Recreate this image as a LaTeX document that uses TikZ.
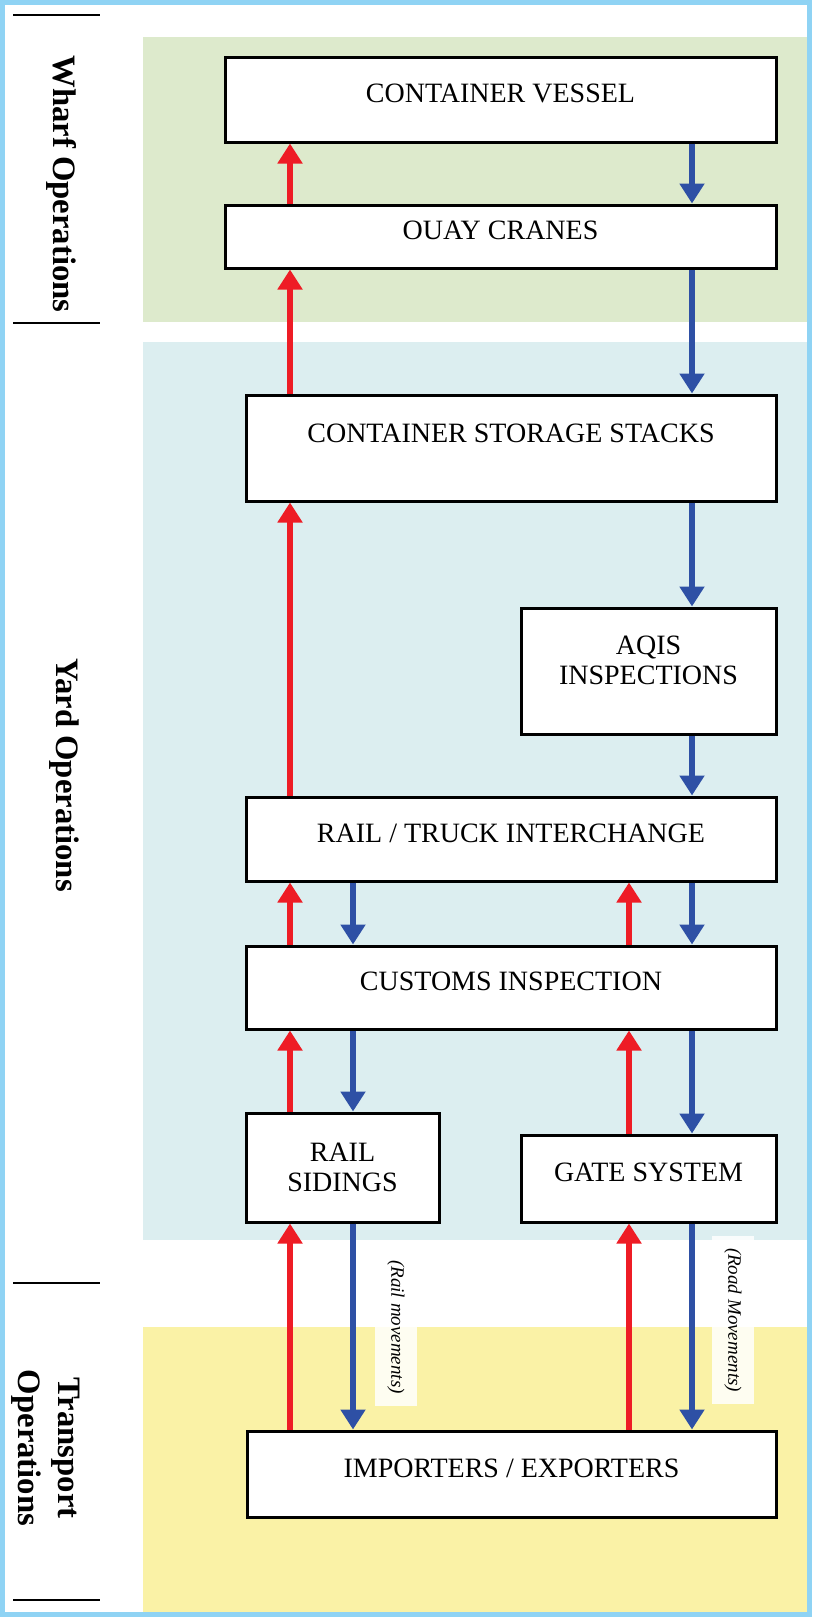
\documentclass[tikz,border=0pt]{standalone}
\usepackage{fontspec}
\setmainfont{Liberation Serif}
\definecolor{PortFrame}{HTML}{8FD3F4}
\definecolor{PortWharf}{HTML}{DDEACC}
\definecolor{PortYard}{HTML}{DCEEF0}
\definecolor{PortTransport}{HTML}{FAF2A6}
\definecolor{PortRed}{HTML}{EE1C25}
\definecolor{PortBlue}{HTML}{2E50A5}
\definecolor{PortBlack}{HTML}{000000}
\definecolor{PortWhite}{HTML}{FFFFFF}
\usepackage{tikz}
\usetikzlibrary{arrows.meta, positioning, calc}
\tikzset{
    box/.style={
        draw=PortBlack,
        line width=3pt,
        fill=PortWhite,
        minimum width=530pt,
        minimum height=84pt,
        text=PortBlack,
        font=\fontsize{28}{30}\selectfont,
        align=center,
        inner sep=4pt,
        text depth=12pt
    },
    sidelabel/.style={
        rotate=-90,
        text=PortBlack,
        font=\bfseries\fontsize{32.7}{40}\selectfont,
        align=center
    },
    movelabel/.style={
        rotate=-90,
        fill=PortWhite,
        fill opacity=0.85,
        text opacity=1,
        text=PortBlack,
        font=\itshape\fontsize{19}{22}\selectfont,
        inner xsep=12pt,
        inner ysep=12pt
    },
    divider/.style={
        draw=PortBlack,
        line width=2pt
    },
    exportarrow/.style={
        -{Triangle[width=24pt,length=20pt]},
        line width=6pt,
        PortRed
    },
    importarrow/.style={
        -{Triangle[width=24pt,length=20pt]},
        line width=6pt,
        PortBlue
    }
}

\begin{document}
\begin{tikzpicture}[x=1pt, y=-1pt]
    \useasboundingbox (0,0) rectangle (812,1617);

    % Panels and frame
    \fill[PortWharf] (143,37) rectangle (807,322);
    \fill[PortYard] (143,342) rectangle (807,1240);
    \fill[PortTransport] (143,1327) rectangle (807,1612);
    \draw[PortFrame, line width=5pt] (2.5,2.5) rectangle (809.5,1614.5);

    % Side labels
    \draw[divider] (13,15) -- (100,15);
    \draw[divider] (13,323) -- (100,323);
    \draw[divider] (13,1283) -- (100,1283);
    \draw[divider] (13,1600) -- (100,1600);
    \node[sidelabel] (wharf) at (62,184) {Wharf Operations};
    \node[sidelabel] (yard) at (64,775) {Yard Operations};
    \node[sidelabel] (transport) at (46,1448) {Transport\\Operations};

    % Arrow lanes
    \coordinate (railup) at (290,0);
    \coordinate (raildown) at (353,0);
    \coordinate (roadup) at (629,0);
    \coordinate (roaddown) at (692,0);

    % Wharf operations
    \node[box, minimum width=551pt, minimum height=85pt] (vessel) at (500.5,99.5) {CONTAINER VESSEL};
    \node[box, minimum width=551pt, minimum height=63pt] (quay) at (500.5,236.5) {OUAY CRANES};

    % Yard operations
    \node[box, minimum height=106pt, text depth=30pt] (stacks) at (511,448) {CONTAINER STORAGE STACKS};
    \node[box, minimum width=255pt, minimum height=126pt, text depth=22pt] (aqis) at (648.5,671) {AQIS\\INSPECTIONS};
    \node[box] (interchange) at (511,839) {RAIL / TRUCK INTERCHANGE};
    \node[box, minimum height=83pt] (customs) at (511,987.5) {CUSTOMS INSPECTION};
    \node[box, minimum width=193pt, minimum height=109pt, text depth=0pt] (sidings) at (342.5,1167.5) {RAIL\\SIDINGS};
    \node[box, minimum width=255pt, minimum height=87pt] (gate) at (648.5,1178.5) {GATE SYSTEM};

    % Transport operations
    \node[box, minimum width=529pt, minimum height=86pt] (importers) at (511.5,1474) {IMPORTERS / EXPORTERS};

    % Exports go up, imports come down
    \draw[exportarrow] (quay.north -| railup) -- (vessel.south -| railup);
    \draw[importarrow] (vessel.south -| roaddown) -- (quay.north -| roaddown);
    \draw[exportarrow] (stacks.north -| railup) -- (quay.south -| railup);
    \draw[importarrow] (quay.south -| roaddown) -- (stacks.north -| roaddown);
    \draw[exportarrow] (interchange.north -| railup) -- (stacks.south -| railup);
    \draw[importarrow] (stacks.south -| roaddown) -- (aqis.north -| roaddown);
    \draw[importarrow] (aqis.south -| roaddown) -- (interchange.north -| roaddown);

    \draw[exportarrow] (customs.north -| railup) -- (interchange.south -| railup);
    \draw[importarrow] (interchange.south -| raildown) -- (customs.north -| raildown);
    \draw[exportarrow] (customs.north -| roadup) -- (interchange.south -| roadup);
    \draw[importarrow] (interchange.south -| roaddown) -- (customs.north -| roaddown);

    \draw[exportarrow] (sidings.north -| railup) -- (customs.south -| railup);
    \draw[importarrow] (customs.south -| raildown) -- (sidings.north -| raildown);
    \draw[exportarrow] (gate.north -| roadup) -- (customs.south -| roadup);
    \draw[importarrow] (customs.south -| roaddown) -- (gate.north -| roaddown);

    \draw[exportarrow] (importers.north -| railup) -- (sidings.south -| railup);
    \draw[importarrow] (sidings.south -| raildown) -- (importers.north -| raildown);
    \draw[exportarrow] (importers.north -| roadup) -- (gate.south -| roadup);
    \draw[importarrow] (gate.south -| roaddown) -- (importers.north -| roaddown);

    % Movement labels
    \node[movelabel] (railmoves) at (396,1327) {(Rail movements)};
    \node[movelabel] (roadmoves) at (733,1320) {(Road Movements)};
\end{tikzpicture}
\end{document}
